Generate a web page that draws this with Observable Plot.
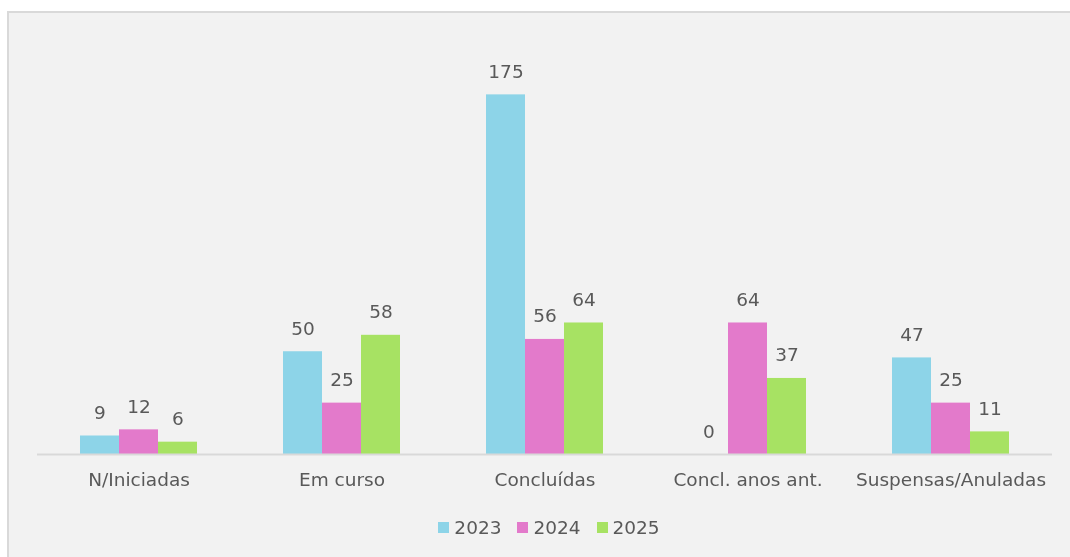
<!DOCTYPE html>
<html>
<head>
<meta charset="utf-8">
<script src="https://cdn.jsdelivr.net/npm/d3@7"></script>
<script src="https://cdn.jsdelivr.net/npm/@observablehq/plot@0.6"></script>
<style>
  html, body { margin: 0; padding: 0; background: #ffffff; overflow: hidden; }
  #panel { position: fixed; left: 7px; top: 11px; right: -20px; bottom: -20px; background: #f2f2f2; border-left: 2px solid #d9d9d9; border-top: 2px solid #d9d9d9; }
  #chart { position: absolute; left: 0; top: 0; }
  #legend { position: absolute; top: 517px; left: 0; width: 1098px; display: flex; justify-content: center; font-family: "DejaVu Sans", Verdana, sans-serif; font-size: 18.5px; color: #595959; }
  .item { display: flex; align-items: center; margin: 0 8px; }
  .sw { width: 11px; height: 11px; margin-right: 5px; }
</style>
</head>
<body>
<div id="panel"></div>
<div id="chart"></div>
<div id="legend"></div>
<script>
const categories = ["N/Iniciadas", "Em curso", "Concluídas", "Concl. anos ant.", "Suspensas/Anuladas"];
const years = ["2023", "2024", "2025"];
const values2023 = [9, 50, 175, 0, 47];
const values2024 = [12, 25, 56, 64, 25];
const values2025 = [6, 58, 64, 37, 11];
const colors = ["#8dd4e8", "#e37acb", "#a7e263"];

const series = [values2023, values2024, values2025];
const data = [];
categories.forEach((c, i) => {
  years.forEach((y, j) => data.push({cat: c, year: y, value: series[j][i]}));
});

const plot = Plot.plot({
  width: 1070,
  height: 500,
  marginLeft: 37,
  marginRight: 18,
  marginTop: 43,
  marginBottom: 46,
  style: {background: "transparent", fontFamily: "DejaVu Sans, Verdana, sans-serif", fontSize: "18.5px", color: "#595959"},
  fx: {domain: categories, padding: 0, label: null, axis: "bottom", tickSize: 0, tickPadding: 18},
  x: {domain: years, paddingInner: 0, paddingOuter: 1.1, axis: null},
  y: {domain: [0, 200], axis: null},
  color: {domain: years, range: colors},
  marks: [
    Plot.barY(data, {fx: "cat", x: "year", y: "value", fill: "year"}),
    Plot.ruleY([0], {stroke: "#d9d9d9", strokeWidth: 2}),
    Plot.text(data, {fx: "cat", x: "year", y: "value", text: d => String(d.value), dy: -17, lineAnchor: "bottom", fill: "#595959", fontSize: 18.5})
  ]
});
document.getElementById("chart").appendChild(plot);

const legend = document.getElementById("legend");
years.forEach((y, i) => {
  const item = document.createElement("div");
  item.className = "item";
  const sw = document.createElement("div");
  sw.className = "sw";
  sw.style.background = colors[i];
  const t = document.createElement("span");
  t.textContent = y;
  item.appendChild(sw);
  item.appendChild(t);
  legend.appendChild(item);
});
</script>
</body>
</html>
